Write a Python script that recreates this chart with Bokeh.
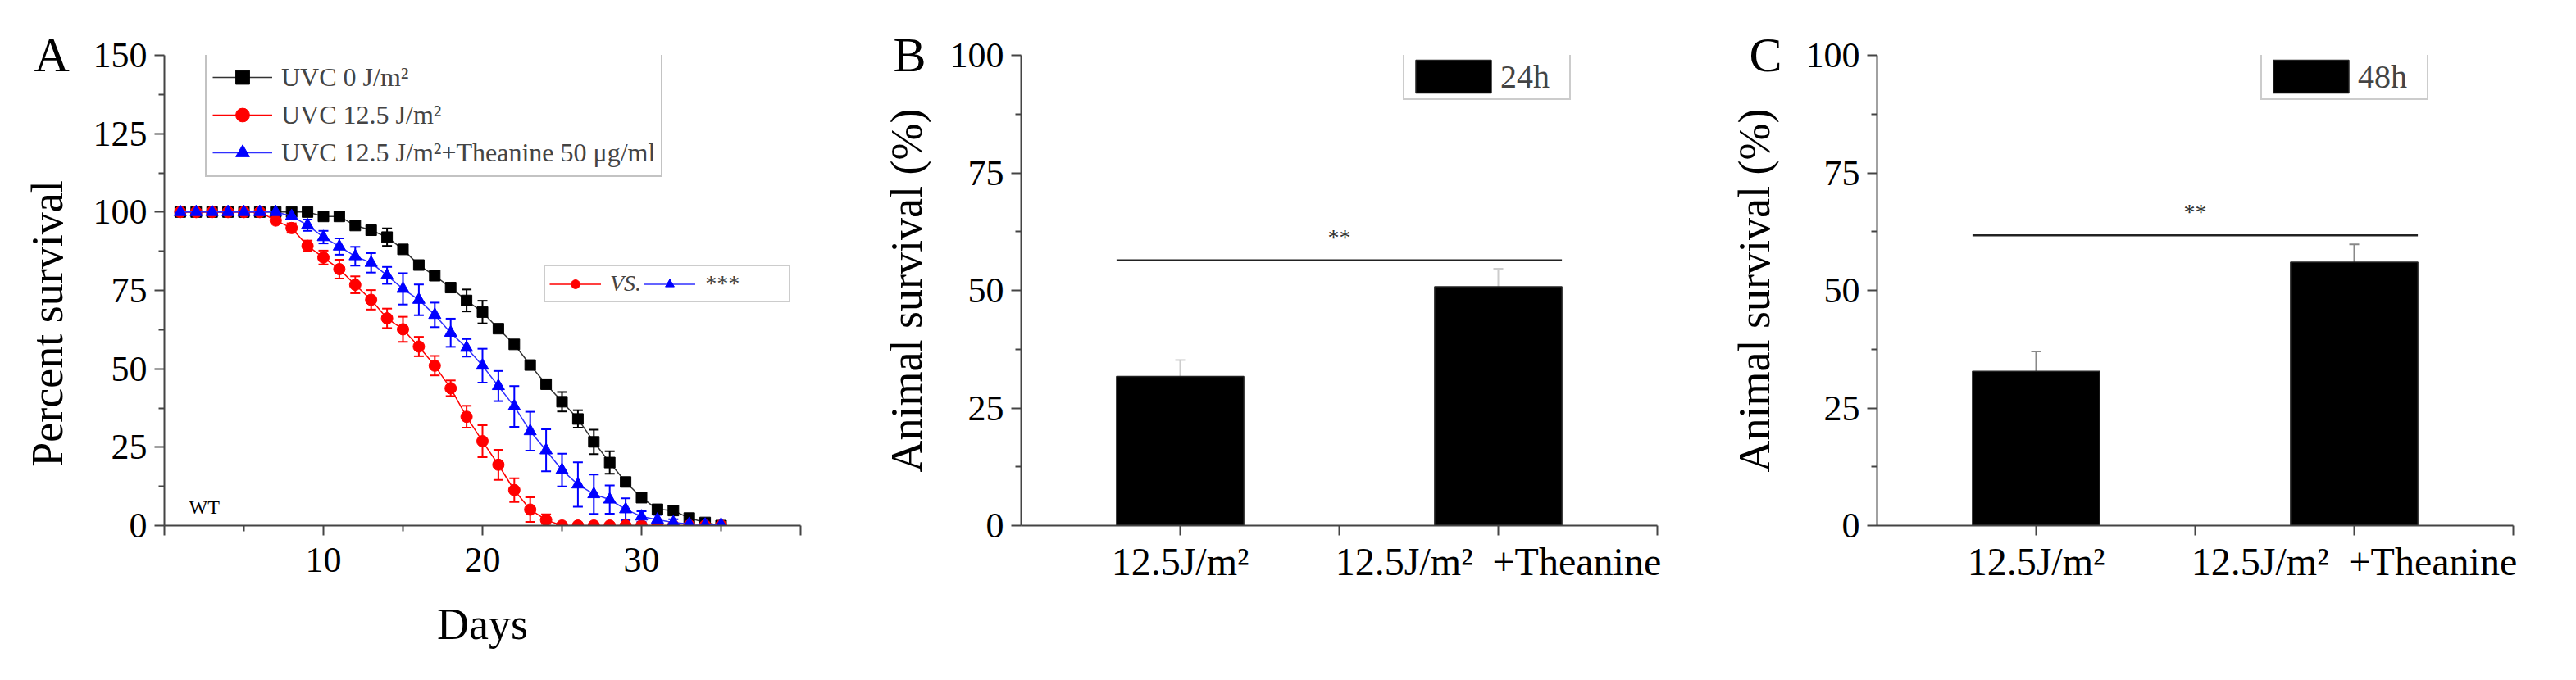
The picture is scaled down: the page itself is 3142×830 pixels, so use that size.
import numpy as np
from bokeh.plotting import figure
from bokeh.models import (ColumnDataSource, Whisker, TeeHead, FixedTicker, Legend,
                          LegendItem, Label, Range1d, Title)
from bokeh.layouts import row
from bokeh.embed import file_html
from bokeh.resources import INLINE

FONT = "Liberation Serif"
NBSP = "\u00a0"

# ---------------- data: panel A (survival curves) ----------------
days = [1, 2, 3, 4, 5, 6, 7, 8, 9, 10, 11, 12, 13, 14, 15, 16, 17, 18, 19, 20,
        21, 22, 23, 24, 25, 26, 27, 28, 29, 30, 31, 32, 33, 34, 35]
uvc0 = [100, 100, 100, 100, 100, 100, 100, 100, 100, 98.6, 98.6, 95.7, 94.2, 92.0, 88.1,
        83.1, 79.7, 75.9, 71.8, 68.1, 62.8, 57.8, 51.2, 45.1, 39.5, 34.0, 26.7, 20.1,
        13.9, 8.9, 5.2, 4.8, 2.4, 1.0, 0.0]
uvc0_err = [0, 0, 0, 0, 0, 0, 0, 0, 0.5, 1.0, 1.0, 1.0, 1.0, 2.8, 1.0, 1.0, 1.0, 1.0, 3.5,
            3.6, 1.0, 1.0, 1.2, 1.0, 3.1, 2.8, 3.9, 3.6, 1.0, 1.0, 0.8, 0.8, 0.8, 0.5, 0]
uvc125 = [100, 100, 100, 100, 100, 100, 97.3, 94.9, 89.2, 85.5, 81.8, 76.8, 72.0, 66.1,
          62.6, 57.1, 51.0, 43.8, 34.7, 26.9, 19.4, 11.3, 5.1, 1.8, 0, 0, 0, 0, 0, 0, 0,
          0, 0, 0, 0]
uvc125_err = [0, 0, 0, 0, 0, 0, 1.0, 1.5, 1.7, 2.2, 3.0, 2.7, 3.1, 3.1, 4.0, 3.1, 3.1, 2.5,
              3.5, 5.1, 4.8, 3.8, 3.9, 1.8, 0, 0, 0, 0, 0, 0, 0, 0, 0, 0, 0]
uvc125_th = [100, 100, 100, 100, 100, 100, 100, 98.7, 95.8, 92.0, 89.0, 85.9, 83.8, 79.8,
             75.5, 72.0, 67.2, 61.5, 56.7, 51.0, 44.5, 38.0, 30.1, 24.0, 17.7, 13.1, 10.0,
             8.3, 5.2, 2.9, 1.9, 1.0, 0.5, 0.3, 0.3]
uvc125_th_err = [0, 0, 0, 0, 0, 0, 0, 1.0, 1.8, 2.0, 2.6, 3.0, 3.1, 2.7, 5.0, 4.9, 3.9, 4.5,
                 2.8, 5.4, 4.8, 6.5, 6.2, 6.7, 5.2, 7.1, 6.3, 4.5, 3.5, 1.7, 1.5, 1.0, 0.5,
                 0.3, 0.3]
series_labels = ["UVC 0 J/m²", "UVC 12.5 J/m²", "UVC 12.5 J/m²+Theanine 50 μg/ml"]
a_xticks = [0, 10, 20, 30, 40]
a_xminor = [5, 15, 25, 35]
a_yticks = [0, 25, 50, 75, 100, 125, 150]
a_yminor = [12.5, 37.5, 62.5, 87.5, 112.5, 137.5]

# ---------------- data: panels B and C (bars) ----------------
bar_categories = ["12.5J/m²", "12.5J/m²" + NBSP * 2 + "+Theanine"]
surv_24h = [31.7, 50.8]
err_24h = [3.5, 3.8]
sig_24h = 56.4
surv_48h = [32.8, 56.0]
err_48h = [4.2, 3.8]
sig_48h = 61.7
bar_yticks = [0, 25, 50, 75, 100]
bar_yminor = [12.5, 37.5, 62.5, 87.5]

BAR_W = 0.4


def style_axes(p, xsize, ysize):
    for ax in (p.xaxis[0], p.yaxis[0]):
        ax.axis_line_width = 2
        ax.axis_line_color = "#444444"
        ax.major_tick_line_width = 2
        ax.minor_tick_line_width = 2
        ax.major_tick_line_color = "#444444"
        ax.minor_tick_line_color = "#444444"
        ax.major_tick_in = 0
        ax.minor_tick_in = 0
        ax.major_tick_out = 12
        ax.minor_tick_out = 7
        ax.major_label_text_font = FONT
        ax.major_label_text_color = "black"
        ax.axis_label_text_font = FONT
        ax.axis_label_text_font_style = "normal"
        ax.axis_label_text_color = "black"
    p.xaxis[0].major_label_text_font_size = xsize
    p.yaxis[0].major_label_text_font_size = ysize
    p.xaxis[0].major_label_standoff = 5
    p.yaxis[0].major_label_standoff = 9
    p.yaxis[0].axis_label_text_font_size = "54px"
    p.xgrid.visible = False
    p.ygrid.visible = False
    p.outline_line_color = None
    p.background_fill_color = "white"
    p.border_fill_color = "white"


def new_fig(xr, yr, left, right):
    return figure(frame_width=776, frame_height=574, min_border_left=left,
                  min_border_right=right, min_border_top=67, min_border_bottom=181,
                  x_range=xr, y_range=yr, output_backend="svg", title=None,
                  toolbar_location=None, tools="")


def panel_letter(p, letter, offset):
    p.add_layout(Title(text=letter, align="left", vertical_align="bottom",
                       offset=offset, standoff=-64, text_font=FONT,
                       text_font_size="60px", text_font_style="normal",
                       text_color="black"), "above")


# ---------------- Panel A ----------------
pA = new_fig(Range1d(0, 40), Range1d(0, 150), 200, 54)
style_axes(pA, "44px", "44px")
pA.xaxis[0].ticker = FixedTicker(ticks=a_xticks, minor_ticks=a_xminor)
pA.xaxis[0].major_label_overrides = {0: "", 40: ""}
pA.xaxis[0].major_label_standoff = 15
pA.yaxis[0].ticker = FixedTicker(ticks=a_yticks, minor_ticks=a_yminor)
pA.xaxis[0].axis_label = "Days"
pA.xaxis[0].axis_label_text_font_size = "54px"
pA.xaxis[0].axis_label_standoff = 31
pA.yaxis[0].axis_label = "Percent survival" + NBSP * 6
pA.yaxis[0].axis_label_standoff = 23

specs = [
    (uvc0, uvc0_err, "black", "#333333", "square", 13),
    (uvc125, uvc125_err, "#ff0000", "#ff0000", "circle", 14),
    (uvc125_th, uvc125_th_err, "#0000ff", "#3030ff", "triangle", 15),
]
rends = []
for vals, errs, color, lcolor, marker, size in specs:
    src = ColumnDataSource(dict(
        x=days, y=vals,
        upper=[v + e for v, e in zip(vals, errs)],
        lower=[v - e for v, e in zip(vals, errs)]))
    ln = pA.line("x", "y", source=src, line_color=lcolor, line_width=1.5)
    wh = Whisker(base="x", upper="upper", lower="lower", source=src,
                 line_color=color, line_width=2,
                 upper_head=TeeHead(size=12, line_color=color, line_width=2),
                 lower_head=TeeHead(size=12, line_color=color, line_width=2))
    pA.add_layout(wh)
    sc = pA.scatter("x", "y", source=src, marker=marker, size=size,
                    fill_color=color, line_color=color)
    rends.append((ln, sc))

legA = Legend(items=[LegendItem(label=lab, renderers=list(r))
                     for lab, r in zip(series_labels, rends)],
              location=(50, 425), margin=0,
              label_text_font=FONT, label_text_font_size="32px",
              label_text_line_height=1.0,
              glyph_width=73, glyph_height=42, label_height=42,
              spacing=4, padding=7, label_standoff=11,
              border_line_color="#888888", border_line_width=2,
              background_fill_color="white", background_fill_alpha=1.0)
pA.add_layout(legA)

legVS = Legend(items=[LegendItem(label="VS.", renderers=list(rends[1])),
                      LegendItem(label="***" + NBSP * 8, renderers=list(rends[2]))],
               orientation="horizontal", location=(463, 272), margin=0,
               label_text_font=FONT, label_text_font_size="28px",
               label_text_font_style="italic", label_text_line_height=1.0,
               glyph_width=63, glyph_height=27, label_height=27,
               spacing=3, padding=5, label_standoff=11,
               border_line_color="#999999", border_line_width=2,
               background_fill_color="white", background_fill_alpha=1.0)
pA.add_layout(legVS)

pA.add_layout(Label(x=1.55, y=6.0, text="WT", text_font=FONT, text_font_size="24px",
                    text_align="left", text_baseline="alphabetic", text_color="black"))
panel_letter(pA, "A", -159)


# ---------------- Panels B and C ----------------
def bar_panel(left, right, vals, errs, sig, letter, leg_label, err_color, leg_x,
              lab_standoff):
    p = new_fig(Range1d(0.5, 2.5), Range1d(0, 100), left, right)
    style_axes(p, "48px", "44px")
    xs = [i + 1 for i in range(len(bar_categories))]
    p.xaxis[0].ticker = FixedTicker(ticks=xs, minor_ticks=[1.5, 2.5])
    p.xaxis[0].minor_tick_out = 12
    p.xaxis[0].major_label_overrides = {x: c for x, c in zip(xs, bar_categories)}
    p.yaxis[0].ticker = FixedTicker(ticks=bar_yticks, minor_ticks=bar_yminor)
    p.yaxis[0].axis_label = "Animal survival (%)"
    p.yaxis[0].axis_label_standoff = lab_standoff
    src = ColumnDataSource(dict(x=xs, top=vals, upper=[v + e for v, e in zip(vals, errs)]))
    bars = p.vbar(x="x", top="top", width=BAR_W, source=src,
                  fill_color="black", line_color="#222222", line_width=1.5)
    p.add_layout(Whisker(base="x", upper="upper", lower="top", source=src,
                         line_color=err_color, line_width=2,
                         upper_head=TeeHead(size=12, line_color=err_color, line_width=2),
                         lower_head=None))
    p.segment(x0=[xs[0] - BAR_W / 2], x1=[xs[-1] + BAR_W / 2], y0=[sig], y1=[sig],
              line_color="#222222", line_width=2.5)
    p.add_layout(Label(x=(xs[0] + xs[-1]) / 2, y=sig + 5.0, text="**", text_font=FONT,
                       text_font_size="28px", text_align="center",
                       text_baseline="alphabetic", text_color="#333333"))
    leg = Legend(items=[LegendItem(label=leg_label, renderers=[bars])],
                 location=(leg_x, 519), margin=0,
                 label_text_font=FONT, label_text_font_size="40px",
                 label_text_line_height=0.9,
                 glyph_width=115, glyph_height=50, label_height=50, label_width=82,
                 padding=2, label_standoff=0,
                 border_line_color="#999999", border_line_width=2,
                 background_fill_color="white", background_fill_alpha=1.0)
    p.add_layout(leg)
    panel_letter(p, letter, -156)
    return p


pB = bar_panel(215, 49, surv_24h, err_24h, sig_24h, "B", "24h", "#cccccc", 466, 20)
pC = bar_panel(219, 61, surv_48h, err_48h, sig_48h, "C", "48h", "#888888", 468, 30)

layout = row(pA, pB, pC)
open("out.html", "w").write(file_html(layout, INLINE))
